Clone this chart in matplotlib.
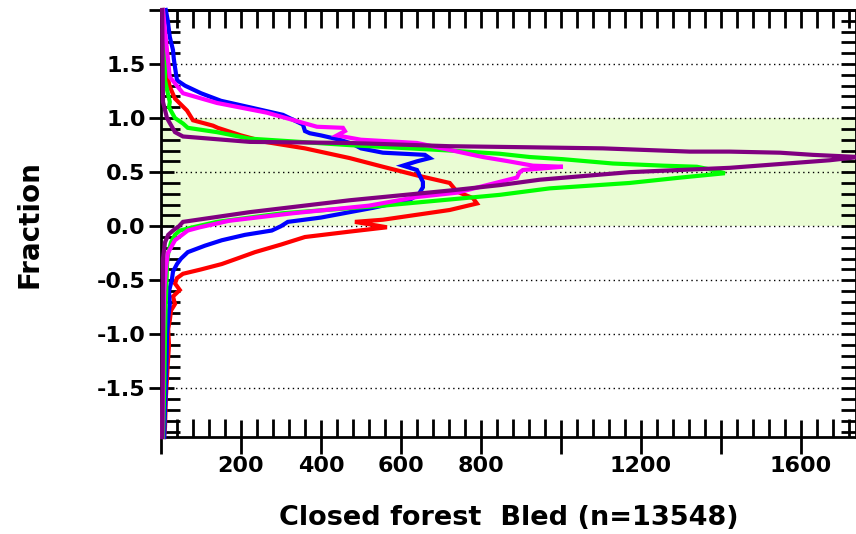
import numpy as np
import matplotlib
matplotlib.use('Agg')
import matplotlib.pyplot as plt
from matplotlib.ticker import MultipleLocator, FixedLocator

plt.rcParams['font.family'] = 'DejaVu Sans'
plt.rcParams['font.weight'] = 'bold'
plt.rcParams['axes.unicode_minus'] = False

# histogram profiles: fraction (y) vs pixel count (x), one pair per class
red_frac = [-1.95, -1.86, -1.6, -1.4, -1.27, -1.1, -0.95, -0.87, -0.78, -0.72, -0.65, -0.59,
            -0.53, -0.48, -0.44, -0.40, -0.35, -0.30, -0.24, -0.17, -0.10, -0.05, -0.01, 0.04,
            0.06, 0.15, 0.21, 0.26, 0.32, 0.40, 0.47, 0.55, 0.63, 0.72, 0.78, 0.84, 0.91, 0.93,
            0.98, 1.07, 1.18, 1.29, 1.4, 1.55, 1.7, 1.85, 2.0]
red_count = [8, 10, 12, 15, 17, 20, 18, 22, 25, 35, 30, 47,
             35, 40, 55, 100, 152, 190, 235, 300, 360, 472, 565, 485,
             555, 722, 790, 780, 740, 722, 640, 555, 472, 360, 260, 200, 142, 130,
             80, 65, 35, 22, 15, 10, 8, 6, 4]

blue_frac = [-1.95, -1.7, -1.5, -1.2, -1.0, -0.85, -0.72, -0.6, -0.5, -0.42, -0.35, -0.30,
             -0.24, -0.18, -0.13, -0.08, -0.04, 0.0, 0.04, 0.08, 0.13, 0.17, 0.21, 0.25, 0.30,
             0.36, 0.41, 0.46, 0.52, 0.56, 0.60, 0.63, 0.66, 0.68, 0.72, 0.76, 0.80, 0.84, 0.86,
             0.88, 0.94, 1.03, 1.10, 1.16, 1.23, 1.30, 1.35, 1.47, 1.55, 1.63, 1.75, 1.9, 2.0]
blue_count = [8, 10, 12, 14, 15, 18, 22, 20, 27, 30, 40, 50,
              67, 110, 152, 210, 277, 300, 317, 400, 472, 530, 580, 625, 645,
              655, 655, 648, 640, 605, 640, 672, 660, 555, 500, 480, 447, 400, 372,
              360, 355, 305, 222, 150, 100, 60, 40, 35, 32, 30, 22, 17, 12]

green_frac = [-1.95, -1.5, -1.0, -0.7, -0.5, -0.35, -0.25, -0.15, -0.08, -0.04, -0.01, 0.04,
              0.12, 0.19, 0.29, 0.35, 0.40, 0.45, 0.49, 0.52, 0.55, 0.56, 0.58, 0.62, 0.64,
              0.67, 0.70, 0.75, 0.81, 0.87, 0.91, 0.95, 1.0, 1.1, 1.15, 1.23, 1.35, 1.55, 1.7, 2.0]
green_count = [5, 8, 10, 12, 14, 15, 18, 25, 35, 47, 80, 140,
               305, 555, 847, 972, 1172, 1300, 1410, 1380, 1340, 1255, 1130, 1005, 922,
               847, 722, 472, 222, 140, 67, 55, 35, 20, 22, 17, 10, 10, 8, 5]

magenta_frac = [-1.95, -1.5, -1.0, -0.6, -0.4, -0.25, -0.13, -0.04, -0.01, 0.05, 0.12, 0.19,
                0.27, 0.31, 0.41, 0.45, 0.50, 0.52, 0.55, 0.56, 0.60, 0.64, 0.77, 0.80, 0.84,
                0.88, 0.91, 0.92, 1.05, 1.14, 1.23, 1.38, 1.63, 1.8, 2.0]
magenta_count = [3, 5, 5, 8, 12, 17, 35, 67, 97, 170, 330, 520,
                 640, 740, 847, 890, 897, 905, 1005, 930, 870, 805, 640, 500, 440,
                 460, 455, 390, 265, 140, 55, 22, 15, 10, 5]

purple_frac = [-1.95, -1.0, -0.3, -0.15, -0.08, -0.04, 0.0, 0.04, 0.13, 0.24, 0.33, 0.38,
               0.43, 0.50, 0.54, 0.61, 0.64, 0.66, 0.68, 0.69, 0.69, 0.72, 0.73, 0.74, 0.77,
               0.78, 0.83, 0.87, 1.0, 1.15, 1.5, 2.0]
purple_count = [3, 5, 5, 10, 18, 30, 45, 55, 222, 472, 722, 847,
                947, 1172, 1422, 1672, 1745, 1630, 1548, 1422, 1322, 1105, 922, 722, 472,
                222, 55, 35, 15, 5, 4, 3]

series = [
    (red_frac, red_count, '#ff0000'),
    (blue_frac, blue_count, '#0000ff'),
    (green_frac, green_count, '#00ff00'),
    (magenta_frac, magenta_count, '#ff00ff'),
    (purple_frac, purple_count, '#800080'),
]

xtick_vals = [0, 200, 400, 600, 800, 1000, 1200, 1400, 1600]
xtick_text = ['', '200', '400', '600', '800', '', '1200', '', '1600']
ytick_vals = [-1.5, -1.0, -0.5, 0.0, 0.5, 1.0, 1.5, 2.0]
ytick_text = ['-1.5', '-1.0', '-0.5', '0.0', '0.5', '1.0', '1.5', '']

fig = plt.figure(figsize=(8.56, 5.34), dpi=100)
ax = fig.add_axes([161/856, 1 - 437/534, (856 - 161)/856, (437 - 10)/534])

ax.set_xlim(0, 1738)
ax.set_ylim(-1.95, 2.0)

# green reference band
ax.axhspan(0, 1, color='#eafcd4', zorder=0, lw=0)

for fr, cnt, col in series:
    ax.plot(cnt, fr, color=col, lw=3.0, clip_on=False, zorder=3,
            solid_joinstyle='miter')

ax.set_axisbelow(True)
ax.grid(axis='y', which='major', color='black', linestyle=(0, (1, 2.5)), lw=1)

ax.set_xticks(xtick_vals)
ax.set_xticklabels(xtick_text, fontsize=16, fontweight='bold')
ax.set_yticks(ytick_vals)
ax.set_yticklabels(ytick_text, fontsize=16, fontweight='bold')
ax.xaxis.set_minor_locator(MultipleLocator(40))
ax.yaxis.set_minor_locator(MultipleLocator(0.1))

ax.tick_params(axis='x', which='major', direction='inout', length=24, width=2, pad=2)
ax.tick_params(axis='x', which='minor', direction='in', length=13, width=2)
ax.tick_params(axis='y', which='major', direction='inout', length=18, width=2, pad=2)
ax.tick_params(axis='y', which='minor', direction='in', length=14, width=2)

for s in ax.spines.values():
    s.set_linewidth(2)

# inward ticks along top and right edges
top = ax.secondary_xaxis('top')
top.xaxis.set_major_locator(FixedLocator(xtick_vals))
top.xaxis.set_minor_locator(MultipleLocator(40))
top.tick_params(which='both', direction='in', length=13, width=2, labeltop=False)
top.spines['top'].set_linewidth(2)

right = ax.secondary_yaxis('right')
right.yaxis.set_major_locator(FixedLocator(ytick_vals))
right.yaxis.set_minor_locator(MultipleLocator(0.1))
right.tick_params(which='both', direction='in', length=11, width=2, labelright=False)

fig.text(509/856, 1 - 518/534, 'Closed forest  Bled (n=13548)', ha='center', va='center',
         fontsize=19.5, fontweight='bold')
fig.text(30/856, 1 - 224/534, 'Fraction', ha='center', va='center', rotation=90,
         fontsize=20, fontweight='bold')

fig.savefig('out.png', dpi=100)
